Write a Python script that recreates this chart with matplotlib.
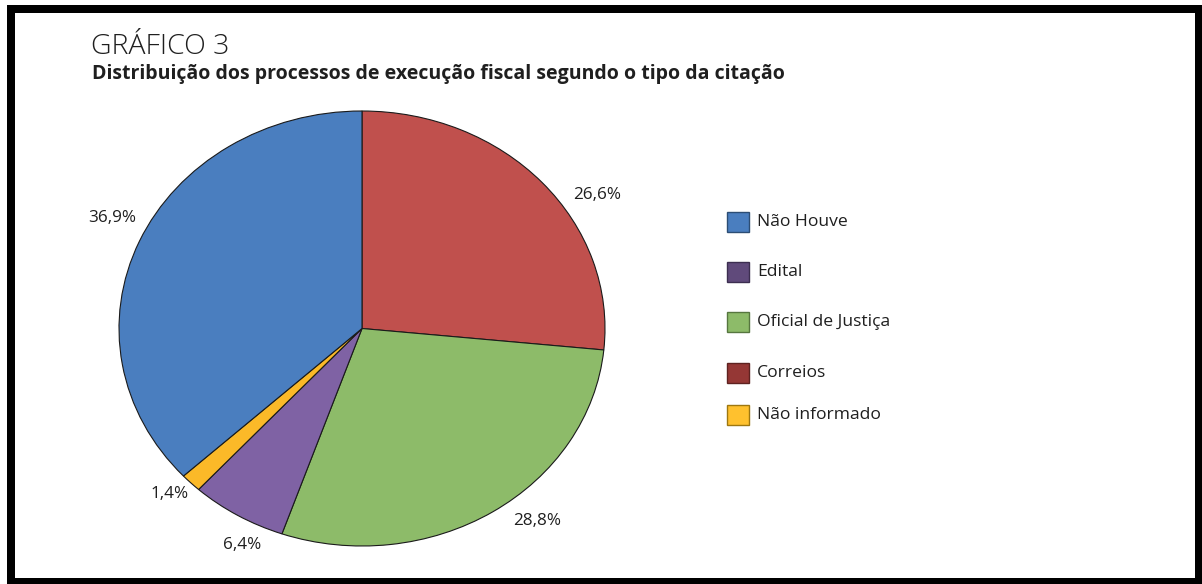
import matplotlib
matplotlib.use("Agg")
import matplotlib.pyplot as plt
from matplotlib.patches import Rectangle

# ---- data ----
slice_labels = ["Correios", "Oficial de Justiça", "Edital", "Não informado", "Não Houve"]
slice_values = [26.6, 28.8, 6.4, 1.4, 36.9]
slice_pct_text = ["26,6%", "28,8%", "6,4%", "1,4%", "36,9%"]
slice_colors = ["#C0504D", "#8DBB69", "#7F62A4", "#FBB928", "#4A7EBF"]

legend_labels = ["Não Houve", "Edital", "Oficial de Justiça", "Correios", "Não informado"]
legend_colors = ["#4A7EBF", "#604A7B", "#8DBB69", "#953735", "#FFC12E"]
legend_edges = ["#2C4D74", "#3C2E50", "#56763F", "#5E2220", "#9E7710"]

title_text = "GRÁFICO 3"
subtitle_text = "Distribuição dos processos de execução fiscal segundo o tipo da citação"

# label positions in pie units (x: fraction of horizontal radius, y: of vertical radius)
pct_pos = [(0.967, 0.614), (0.720, -0.885), (-0.494, -0.995), (-0.790, -0.761), (-1.029, 0.508)]
legend_y_px = [222, 272, 322, 373, 415]

W, H = 1202, 584
fig = plt.figure(figsize=(W / 100, H / 100), dpi=100)
fig.patch.set_facecolor("white")

FONT = ["Open Sans", "DejaVu Sans"]
TXT = "#1f1f1f"

# frame
fig.add_artist(Rectangle((11 / W, 1 - 582 / H), (1199 - 11) / W, (582 - 9) / H,
                         transform=fig.transFigure, fill=False, edgecolor="black",
                         linewidth=8 * 0.72))

# pie axes (ellipse)
cx, cy, rx, ry = 362, 328.5, 243, 217.5
ax = fig.add_axes([(cx - rx) / W, 1 - (cy + ry) / H, 2 * rx / W, 2 * ry / H])
wedges, _ = ax.pie(slice_values, colors=slice_colors, startangle=90, counterclock=False,
                   radius=1, wedgeprops=dict(edgecolor="#1a1a1a", linewidth=0.8))
ax.set_aspect("auto")
ax.set_xlim(-1, 1)
ax.set_ylim(-1, 1)
ax.axis("off")
for (px, py), t in zip(pct_pos, slice_pct_text):
    ax.text(px, py, t, ha="center", va="center", fontsize=12.3, family=FONT, color=TXT,
            clip_on=False)

# titles
fig.text(91 / W, 1 - 54 / H, title_text, fontsize=20.5, family=FONT, fontweight="light",
         color=TXT, ha="left", va="baseline")
fig.text(92 / W, 1 - 78.5 / H, subtitle_text, fontsize=14.0, family=FONT, fontweight="bold",
         color=TXT, ha="left", va="baseline")

# legend (manual)
for y, lab, c, e in zip(legend_y_px, legend_labels, legend_colors, legend_edges):
    fig.add_artist(Rectangle((727 / W, 1 - (y + 10) / H), 22 / W, 20 / H,
                             transform=fig.transFigure, facecolor=c, edgecolor=e,
                             linewidth=1.0))
    fig.text(757 / W, 1 - y / H, lab, fontsize=12.6, family=FONT, color=TXT,
             ha="left", va="center")

fig.savefig("out.png", dpi=100)
